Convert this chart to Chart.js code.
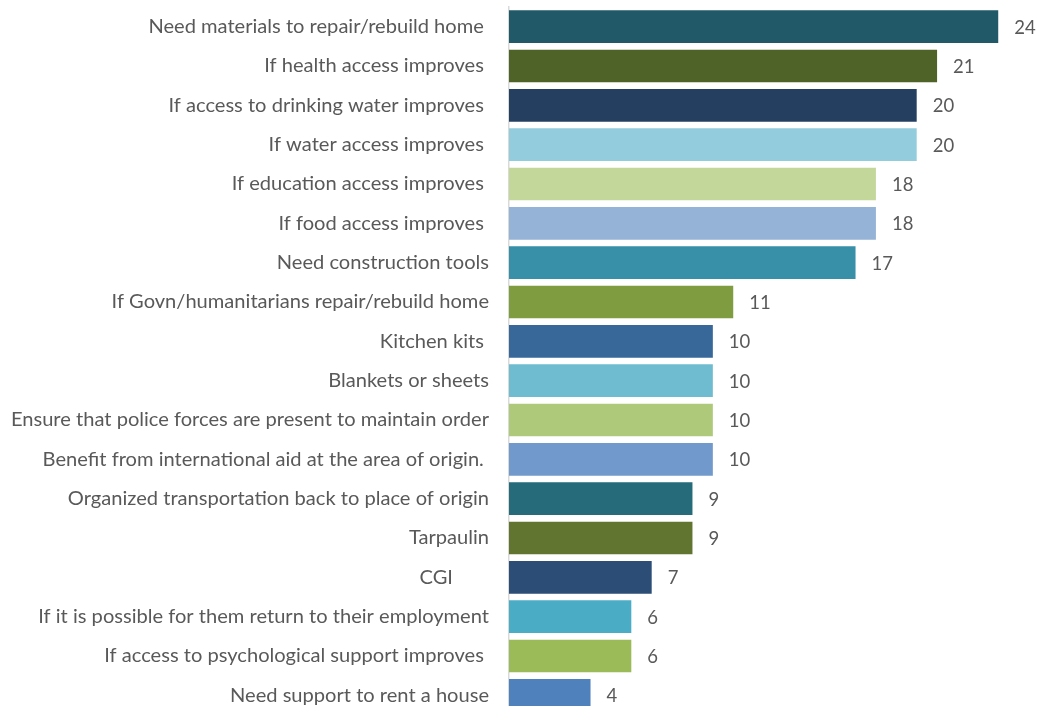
<!DOCTYPE html>
<html>
<head>
<meta charset="utf-8">
<script src="https://cdn.jsdelivr.net/npm/chart.js@4.4.1/dist/chart.umd.min.js"></script>
<style>
  html, body { margin: 0; padding: 0; background: #ffffff; overflow: hidden; }
  #wrap { position: relative; width: 1039px; height: 722px; }
</style>
</head>
<body>
<div id="wrap"><canvas id="c" width="1039" height="722"></canvas></div>
<script>
const categories = [
  "Need materials to repair/rebuild home ",
  "If health access improves ",
  "If access to drinking water improves ",
  "If water access improves ",
  "If education access improves ",
  "If food access improves ",
  "Need construction tools",
  "If Govn/humanitarians repair/rebuild home",
  "Kitchen kits ",
  "Blankets or sheets",
  "Ensure that police forces are present to maintain order",
  "Benefit from international aid at the area of origin. ",
  "Organized transportation back to place of origin",
  "Tarpaulin",
  "CGI       ",
  "If it is possible for them return to their employment",
  "If access to psychological support improves ",
  "Need support to rent a house"
];
const values = [24, 21, 20, 20, 18, 18, 17, 11, 10, 10, 10, 10, 9, 9, 7, 6, 6, 4];
const barColors = [
  "#215968", "#4F6228", "#243F60", "#93CDDD", "#C4D79B", "#95B3D7",
  "#378FA8", "#7F9C41", "#38679A", "#6FBCD0", "#AFC97B", "#7299CB",
  "#256B7A", "#627530", "#2C4D75", "#4BACC6", "#9BBB59", "#4F81BD"
];

const FONT = "Lato, 'Open Sans', sans-serif";
const TEXT_COLOR = "#595959";

const valueLabels = {
  id: "valueLabels",
  afterDatasetsDraw(chart) {
    const ctx = chart.ctx;
    const meta = chart.getDatasetMeta(0);
    ctx.save();
    ctx.font = "18.5px " + FONT;
    ctx.fillStyle = TEXT_COLOR;
    ctx.textAlign = "left";
    ctx.textBaseline = "middle";
    meta.data.forEach((bar, i) => {
      ctx.fillText(String(values[i]), bar.x + 16, bar.y + 1);
    });
    ctx.restore();
  }
};

new Chart(document.getElementById("c"), {
  type: "bar",
  data: {
    labels: categories,
    datasets: [{
      data: values,
      backgroundColor: barColors,
      borderWidth: 0,
      barPercentage: 0.83,
      categoryPercentage: 1.0
    }]
  },
  options: {
    indexAxis: "y",
    responsive: false,
    animation: false,
    layout: { padding: { left: 0, right: 0, top: 7, bottom: 7 } },
    plugins: { legend: { display: false }, tooltip: { enabled: false } },
    scales: {
      x: {
        display: false,
        min: 0,
        max: 26
      },
      y: {
        afterFit(scale) {
          scale.width = 509;
          scale.paddingTop = 0;
          scale.paddingBottom = 0;
        },
        grid: { display: false, drawTicks: false },
        border: { display: true, color: "#d9d9d9", width: 1.5 },
        ticks: {
          padding: 20,
          color: TEXT_COLOR,
          font: { family: FONT, size: 20.1 },
          autoSkip: false
        }
      }
    }
  },
  plugins: [valueLabels]
});
</script>
</body>
</html>
